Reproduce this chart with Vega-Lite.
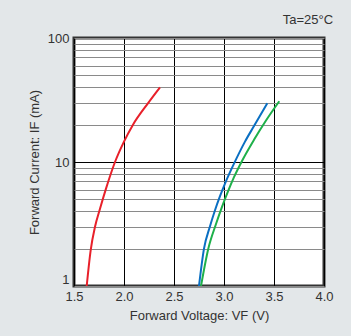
{
  "$schema": "https://vega.github.io/schema/vega-lite/v6.json",
  "width": 250,
  "height": 248,
  "autosize": {"type": "none"},
  "padding": {"left": 74, "top": 38, "right": 27, "bottom": 50},
  "background": "#e3e7e9",
  "title": {"text": "Ta=25°C", "anchor": "end", "fontSize": 13, "fontWeight": "normal", "font": "Liberation Sans", "color": "#333333", "offset": 5},
  "config": {
    "font": "Liberation Sans",
    "view": {"stroke": "#333333", "strokeWidth": 3, "fill": "white"}
  },
  "data": {"values": [
    {"s": "red", "v": 1.627, "i": 1},
    {"s": "red", "v": 1.667, "i": 1.95},
    {"s": "red", "v": 1.71, "i": 3.0},
    {"s": "red", "v": 1.76, "i": 4.2},
    {"s": "red", "v": 1.82, "i": 6.1},
    {"s": "red", "v": 1.91, "i": 10},
    {"s": "red", "v": 2.0, "i": 14.6},
    {"s": "red", "v": 2.09, "i": 20},
    {"s": "red", "v": 2.243, "i": 30},
    {"s": "red", "v": 2.36, "i": 40},
    {"s": "blue", "v": 2.75, "i": 1},
    {"s": "blue", "v": 2.80, "i": 2.0},
    {"s": "blue", "v": 2.86, "i": 3.03},
    {"s": "blue", "v": 2.91, "i": 4.08},
    {"s": "blue", "v": 2.96, "i": 5.3},
    {"s": "blue", "v": 3.01, "i": 6.7},
    {"s": "blue", "v": 3.10, "i": 9.7},
    {"s": "blue", "v": 3.21, "i": 14.6},
    {"s": "blue", "v": 3.30, "i": 19.5},
    {"s": "blue", "v": 3.433, "i": 29.8},
    {"s": "green", "v": 2.77, "i": 1},
    {"s": "green", "v": 2.843, "i": 2.0},
    {"s": "green", "v": 2.92, "i": 3.16},
    {"s": "green", "v": 2.98, "i": 4.35},
    {"s": "green", "v": 3.04, "i": 5.8},
    {"s": "green", "v": 3.10, "i": 7.55},
    {"s": "green", "v": 3.18, "i": 10.2},
    {"s": "green", "v": 3.30, "i": 15.1},
    {"s": "green", "v": 3.42, "i": 21.6},
    {"s": "green", "v": 3.553, "i": 30.9}
  ]},
  "mark": {"type": "line", "strokeWidth": 2, "clip": true, "interpolate": "monotone"},
  "encoding": {
    "x": {
      "field": "v", "type": "quantitative",
      "scale": {"domain": [1.5, 4.0], "nice": false, "zero": false},
      "axis": {
        "values": [1.5, 2.0, 2.5, 3.0, 3.5, 4.0],
        "format": ".1f",
        "title": "Forward Voltage: VF (V)",
        "domain": false, "ticks": false,
        "labelFlush": false,
        "labelPadding": 4,
        "labelFontSize": 13, "labelColor": "#333333",
        "titleFontSize": 13, "titleFontWeight": "normal", "titleColor": "#333333",
        "titlePadding": 6,
        "gridColor": "#000000", "gridOpacity": 1, "gridWidth": 1
      }
    },
    "y": {
      "field": "i", "type": "quantitative",
      "scale": {"type": "log", "domain": [1, 100], "nice": false},
      "axis": {
        "values": [1, 2, 3, 4, 5, 6, 7, 8, 9, 10, 20, 30, 40, 50, 60, 70, 80, 90, 100],
        "labelExpr": "datum.value == 1 || datum.value == 10 || datum.value == 100 ? format(datum.value, 'd') : ''",
        "title": "Forward Current: IF (mA)",
        "domain": false, "ticks": false,
        "labelFlush": false,
        "labelBaseline": {"condition": {"test": "datum.value == 1", "value": "bottom"}, "value": "middle"},
        "labelPadding": 5,
        "labelFontSize": 13, "labelColor": "#333333",
        "titleFontSize": 13, "titleFontWeight": "normal", "titleColor": "#333333",
        "titlePadding": 6,
        "gridColor": {"condition": {"test": "datum.value == 10", "value": "#000000"}, "value": "#8a8a8a"},
        "gridOpacity": 1, "gridWidth": 1
      }
    },
    "color": {
      "field": "s", "type": "nominal",
      "scale": {"domain": ["red", "blue", "green"], "range": ["#e8202a", "#0a6fc2", "#1eb04a"]},
      "legend": null
    }
  }
}
